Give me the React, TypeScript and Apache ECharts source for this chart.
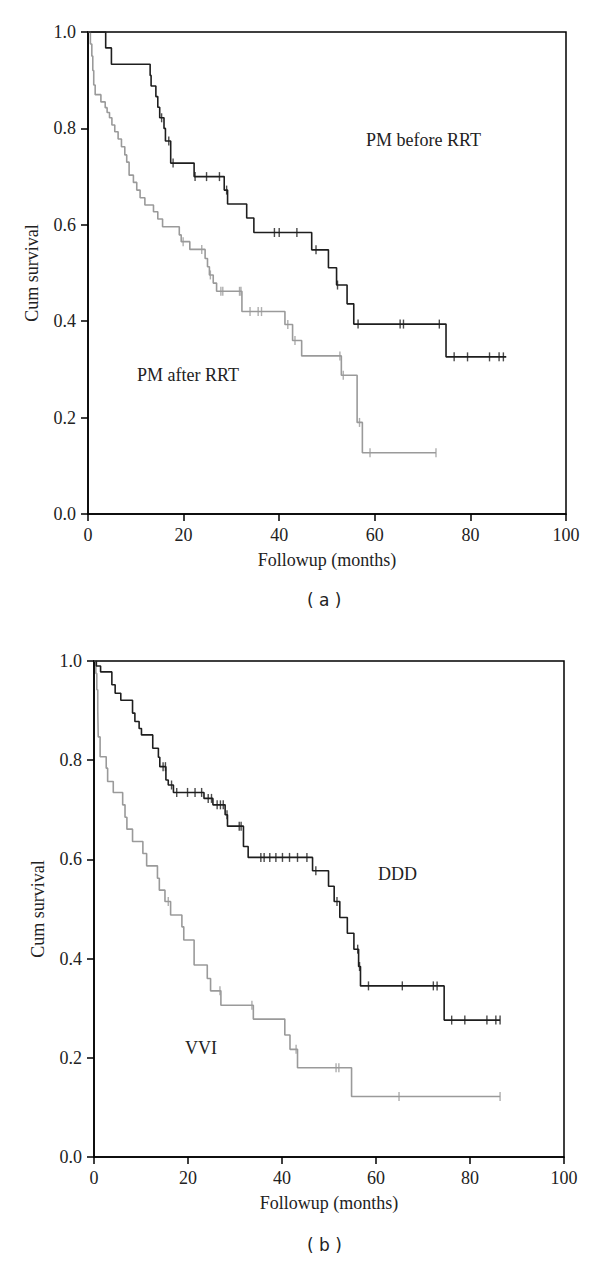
import React, { useEffect, useRef } from "react";
import * as echarts from "echarts";

// Panel (a): PM before RRT (black)
const beforeTimes = [0, 3.7, 4.9, 13.0, 13.2, 14.2, 14.6, 15.0, 15.9, 16.2, 17.3, 22.2, 28.5, 29.2, 33.2, 34.7, 46.8, 50.3, 52.0, 54.2, 55.6, 74.9, 87.5];
const beforeSurv = [1.0, 0.967, 0.933, 0.91, 0.888, 0.866, 0.844, 0.822, 0.8, 0.774, 0.728, 0.7, 0.672, 0.643, 0.614, 0.584, 0.548, 0.511, 0.475, 0.436, 0.394, 0.326, 0.326];
const beforeCensored = [15.4, 16.9, 17.8, 22.4, 24.8, 27.5, 29.0, 39.0, 40.0, 43.7, 47.7, 52.2, 56.5, 65.3, 66.0, 73.5, 76.6, 79.4, 84.0, 86.0, 86.9];

// Panel (a): PM after RRT (gray)
const afterTimes = [0, 0.5, 0.8, 1.0, 1.2, 1.5, 2.7, 3.6, 4.0, 4.5, 5.0, 5.6, 6.3, 7.0, 7.7, 8.1, 8.6, 9.5, 10.2, 10.9, 11.9, 13.7, 14.6, 15.6, 19.1, 19.5, 21.3, 24.5, 25.0, 25.4, 26.2, 26.9, 32.2, 41.2, 42.8, 44.7, 53.0, 56.3, 57.4, 72.8];
const afterSurv = [1.0, 0.975, 0.95, 0.92, 0.89, 0.87, 0.855, 0.843, 0.833, 0.822, 0.807, 0.793, 0.778, 0.762, 0.745, 0.73, 0.703, 0.688, 0.672, 0.656, 0.641, 0.627, 0.612, 0.596, 0.579, 0.565, 0.549, 0.53, 0.513, 0.496, 0.479, 0.462, 0.42, 0.393, 0.36, 0.328, 0.288, 0.19, 0.127, 0.127];
const afterCensored = [19.9, 23.8, 25.6, 27.8, 28.2, 31.7, 32.0, 33.9, 35.6, 36.3, 41.8, 43.3, 52.7, 53.4, 56.8, 59.0, 72.8];

// Panel (b): DDD (black)
const dddTimes = [0, 0.5, 1.4, 3.8, 4.5, 5.7, 8.2, 8.7, 9.6, 10.1, 12.5, 13.7, 14.0, 15.3, 15.8, 16.9, 23.4, 25.3, 27.9, 28.4, 31.8, 32.8, 46.5, 49.9, 51.1, 52.3, 53.9, 55.3, 56.3, 56.7, 74.5, 86.4];
const dddSurv = [1.0, 0.99, 0.978, 0.952, 0.935, 0.921, 0.895, 0.878, 0.864, 0.851, 0.824, 0.806, 0.787, 0.76, 0.75, 0.735, 0.723, 0.71, 0.69, 0.667, 0.626, 0.604, 0.577, 0.546, 0.515, 0.483, 0.451, 0.419, 0.384, 0.345, 0.276, 0.276];
const dddCensored = [14.7, 15.2, 16.5, 17.6, 19.9, 21.5, 22.9, 24.3, 25.0, 26.2, 26.9, 27.5, 28.3, 30.9, 31.3, 35.5, 36.2, 37.4, 38.7, 40.1, 41.6, 43.3, 45.3, 47.2, 51.7, 56.1, 56.5, 58.4, 65.6, 72.2, 73.0, 76.1, 78.9, 83.6, 85.5, 86.4];

// Panel (b): VVI (gray)
const vviTimes = [0, 0.4, 0.6, 0.8, 0.9, 1.3, 2.6, 2.9, 4.1, 6.1, 6.6, 7.0, 8.2, 10.4, 11.2, 13.5, 13.9, 15.1, 16.3, 18.7, 19.1, 21.3, 24.1, 24.8, 27.0, 33.9, 40.6, 41.7, 43.3, 54.8, 86.4];
const vviSurv = [1.0, 0.975, 0.942, 0.9, 0.847, 0.807, 0.784, 0.757, 0.735, 0.71, 0.685, 0.661, 0.636, 0.612, 0.587, 0.562, 0.538, 0.515, 0.488, 0.464, 0.4375, 0.387, 0.36, 0.335, 0.306, 0.278, 0.246, 0.217, 0.18, 0.122, 0.122];
const vviCensored = [15.8, 26.8, 33.6, 43.0, 51.5, 52.1, 64.9, 86.4];

const xTicks = [0, 20, 40, 60, 80, 100];
const yTicks = [0.0, 0.2, 0.4, 0.6, 0.8, 1.0];

const BLACK = "#1e1e1e";
const GRAY = "#9a9a9a";
const SERIF = "Liberation Serif";

function curve(times: number[], surv: number[]) {
  return times.map((t, i) => [t, surv[i]]);
}
function censorMarks(times: number[], surv: number[], cens: number[]) {
  return cens.map((c) => {
    let v = surv[0];
    for (let i = 0; i < times.length; i++) if (times[i] <= c) v = surv[i];
    return [c, v];
  });
}

export default function App() {
  const ref = useRef<HTMLDivElement>(null);
  useEffect(() => {
    if (!ref.current) return;
    const chart = echarts.init(ref.current, null, { renderer: "svg" });
    const xAxisBase = (gridIndex: number) => ({
      type: "value",
      gridIndex,
      min: xTicks[0],
      max: xTicks[xTicks.length - 1],
      interval: 20,
      name: "Followup (months)",
      nameLocation: "middle",
      nameGap: 37,
      nameTextStyle: { fontFamily: SERIF, fontSize: 18, color: "#222" },
      axisLine: { show: true, lineStyle: { color: "#000", width: 1.5 } },
      axisTick: { show: true, inside: false, length: 7, lineStyle: { color: "#000", width: 1.5 } },
      axisLabel: { fontFamily: SERIF, fontSize: 18, color: "#222", margin: 12 },
      splitLine: { show: false },
    });
    const yAxisBase = (gridIndex: number) => ({
      type: "value",
      gridIndex,
      min: yTicks[0],
      max: yTicks[yTicks.length - 1],
      interval: 0.2,
      name: "Cum survival",
      nameLocation: "middle",
      nameGap: 47,
      nameTextStyle: { fontFamily: SERIF, fontSize: 18, color: "#222" },
      axisLine: { show: true, lineStyle: { color: "#000", width: 1.5 } },
      axisTick: { show: true, inside: false, length: 7, lineStyle: { color: "#000", width: 1.5 } },
      axisLabel: { fontFamily: SERIF, fontSize: 18, color: "#222", margin: 12, formatter: (v: number) => v.toFixed(1) },
      splitLine: { show: false },
    });
    const lineSeries = (idx: number, times: number[], surv: number[], color: string) => ({
      type: "line",
      xAxisIndex: idx,
      yAxisIndex: idx,
      step: "end",
      showSymbol: false,
      symbol: "none",
      data: curve(times, surv),
      lineStyle: { color, width: 1.6 },
      silent: true,
    });
    const censorSeries = (idx: number, times: number[], surv: number[], cens: number[], color: string) => ({
      type: "scatter",
      xAxisIndex: idx,
      yAxisIndex: idx,
      symbol: "rect",
      symbolSize: [1.4, 9],
      data: censorMarks(times, surv, cens),
      itemStyle: { color },
      silent: true,
    });
    chart.setOption({
      animation: false,
      backgroundColor: "#fff",
      grid: [
        { left: 88, top: 32, width: 478, height: 482, show: true, borderColor: "#000", borderWidth: 1.5, backgroundColor: "transparent" },
        { left: 94, top: 661, width: 470, height: 496, show: true, borderColor: "#000", borderWidth: 1.5, backgroundColor: "transparent" },
      ],
      xAxis: [xAxisBase(0), xAxisBase(1)],
      yAxis: [yAxisBase(0), yAxisBase(1)],
      series: [
        lineSeries(0, afterTimes, afterSurv, GRAY),
        censorSeries(0, afterTimes, afterSurv, afterCensored, GRAY),
        lineSeries(0, beforeTimes, beforeSurv, BLACK),
        censorSeries(0, beforeTimes, beforeSurv, beforeCensored, BLACK),
        lineSeries(1, vviTimes, vviSurv, GRAY),
        censorSeries(1, vviTimes, vviSurv, vviCensored, GRAY),
        lineSeries(1, dddTimes, dddSurv, BLACK),
        censorSeries(1, dddTimes, dddSurv, dddCensored, BLACK),
      ],
      graphic: [
        { type: "text", left: 366, top: 131, style: { text: "PM before RRT", fontFamily: SERIF, fontSize: 18, fill: "#222" } },
        { type: "text", left: 137, top: 366, style: { text: "PM after RRT", fontFamily: SERIF, fontSize: 18, fill: "#222" } },
        { type: "text", left: 378, top: 865, style: { text: "DDD", fontFamily: SERIF, fontSize: 18, fill: "#222" } },
        { type: "text", left: 185, top: 1039, style: { text: "VVI", fontFamily: SERIF, fontSize: 18, fill: "#222" } },
        { type: "text", left: 307, top: 591, style: { text: "( a )", fontFamily: "DejaVu Sans", fontSize: 17, fill: "#222" } },
        { type: "text", left: 307, top: 1236, style: { text: "( b )", fontFamily: "DejaVu Sans", fontSize: 17, fill: "#222" } },
      ],
    });
    return () => chart.dispose();
  }, []);
  return (
    <div
      ref={ref}
      style={{ position: "absolute", left: 0, top: 0, width: 600, height: 1275, background: "#fff" }}
    />
  );
}
